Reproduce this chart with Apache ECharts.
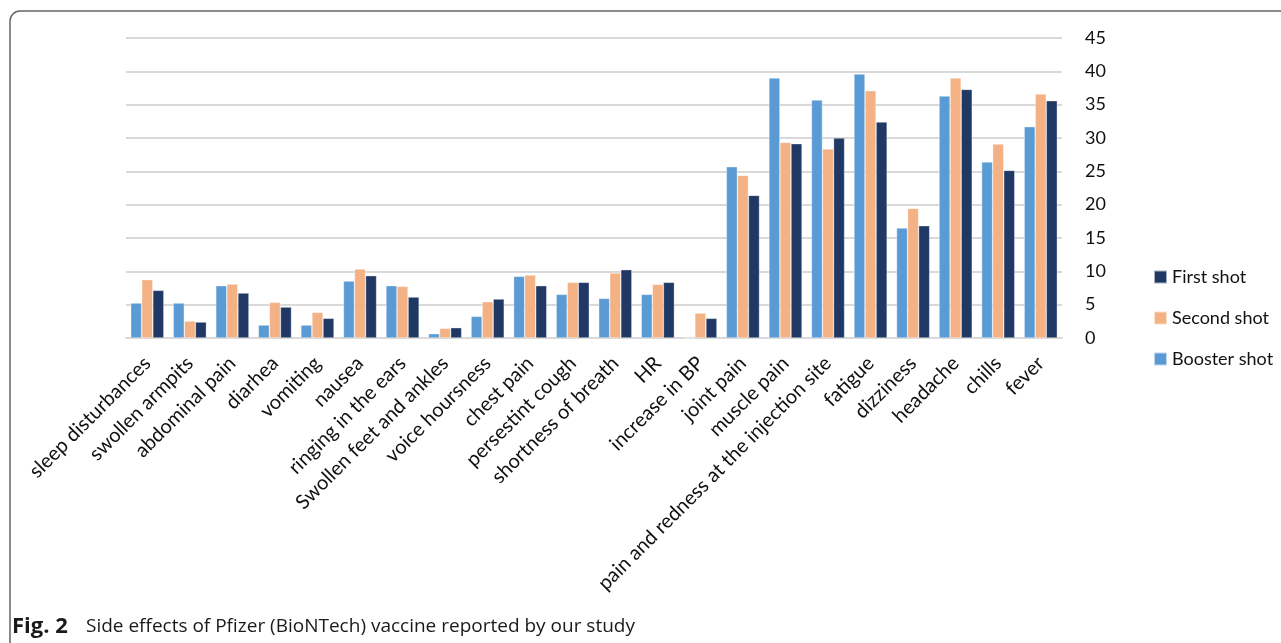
<!DOCTYPE html>
<html><head><meta charset="utf-8">
<script src="https://cdn.jsdelivr.net/npm/echarts@6/dist/echarts.min.js"></script>
<style>html,body{margin:0;padding:0;background:#fff}#c{width:1281px;height:643px}</style>
</head><body><div id="c"></div>
<script>
const categories = ["sleep disturbances","swollen armpits","abdominal pain","diarhea","vomiting","nausea","ringing in the ears","Swollen feet and ankles","voice hoursness","chest pain","persestint cough","shortness of breath","HR","increase in BP","joint pain","muscle pain","pain and redness at the injection site","fatigue","dizziness","headache","chills","fever"];
const boosterShot = [5.25,5.25,7.85,1.95,1.95,8.55,7.85,0.65,3.25,9.25,6.55,5.95,6.55,0,25.7,39.0,35.7,39.6,16.5,36.3,26.4,31.7];
const secondShot = [8.75,2.55,8.1,5.35,3.85,10.35,7.75,1.45,5.45,9.45,8.35,9.75,8.05,3.75,24.4,29.35,28.35,37.1,19.45,39.0,29.1,36.6];
const firstShot = [7.15,2.4,6.75,4.65,2.95,9.35,6.15,1.55,5.85,7.85,8.35,10.25,8.35,2.95,21.4,29.15,30.0,32.4,16.85,37.3,25.15,35.6];
const yTicks = [0,5,10,15,20,25,30,35,40,45];

const chart = echarts.init(document.getElementById('c'), null, {renderer:'canvas'});
const font = "Lato, 'Open Sans', sans-serif";
const capFont = "'Open Sans', 'Noto Sans', sans-serif";
const barStyle = c => ({color:c, borderColor:'rgba(255,255,255,0.6)', borderWidth:0.6});
chart.setOption({
  animation:false,
  textStyle:{fontFamily:font},
  grid:{left:126, right:219, top:38, bottom:305, containLabel:false},
  legend:{
    orient:'vertical', left:1148, top:262, itemGap:21, itemWidth:13, itemHeight:13, itemTextGap:6,
    icon:'rect', textStyle:{fontSize:18, lineHeight:20, color:'#111', fontFamily:font},
    data:['First shot','Second shot','Booster shot']
  },
  xAxis:{
    type:'category', data:categories,
    axisLine:{lineStyle:{color:'#d9d9d9', width:2}},
    axisTick:{show:false},
    axisLabel:{rotate:45, interval:0, fontSize:20, color:'#111', margin:22, fontFamily:font}
  },
  yAxis:{
    type:'value', position:'right', min:0, max:45, interval:5,
    axisLine:{show:false}, axisTick:{show:false},
    splitLine:{lineStyle:{color:'#d9d9d9', width:2}},
    axisLabel:{fontSize:18, color:'#111', margin:23, fontFamily:font,
      formatter:v => yTicks.includes(v) ? String(v) : ''}
  },
  series:[
    {name:'Booster shot', type:'bar', data:boosterShot, itemStyle:barStyle('#5B9BD5'), barGap:'0%', barCategoryGap:'22%'},
    {name:'Second shot', type:'bar', data:secondShot, itemStyle:barStyle('#F4B183'), barGap:'0%', barCategoryGap:'22%'},
    {name:'First shot', type:'bar', data:firstShot, itemStyle:barStyle('#203864'), barGap:'0%', barCategoryGap:'22%'}
  ],
  graphic:[
    {type:'rect', silent:true, z:-1, shape:{x:10, y:11, width:1320, height:700, r:10},
     style:{fill:null, stroke:'#666', lineWidth:1.5}},
    {type:'text', left:12, top:616, style:{text:'Fig. 2', fontSize:22, fontWeight:'bold', fontFamily:capFont, fill:'#1a1a1a'}},
    {type:'text', left:86, top:617, style:{text:'Side effects of Pfizer (BioNTech) vaccine reported by our study', fontSize:19, fontFamily:capFont, fill:'#1a1a1a'}}
  ]
});
</script></body></html>
